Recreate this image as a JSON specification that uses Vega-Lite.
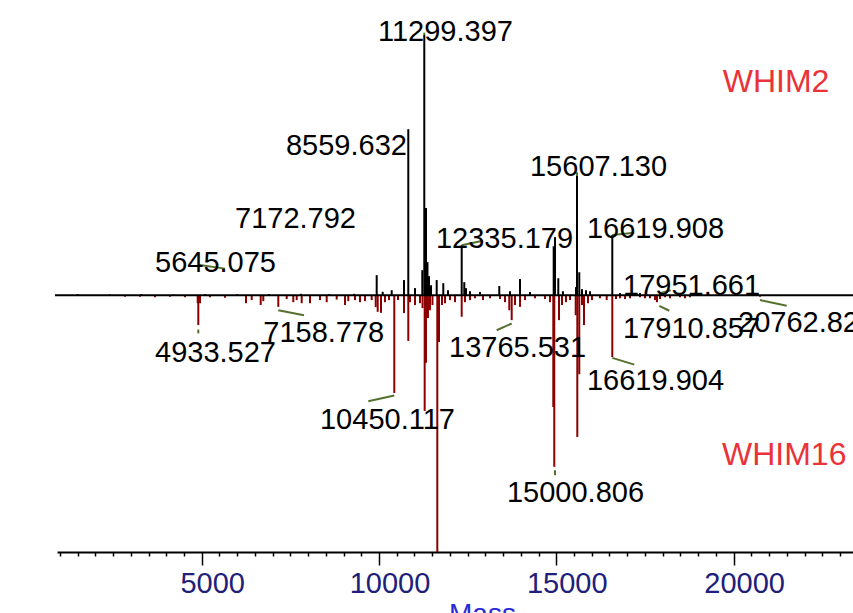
{
  "$schema": "https://vega.github.io/schema/vega-lite/v6.json",
  "autosize": "none",
  "width": 796,
  "height": 532,
  "padding": {"left": 57, "top": 20, "right": 0, "bottom": 61},
  "background": "white",
  "config": {"view": {"stroke": null}, "font": "Liberation Sans"},
  "datasets": {
    "base": [{"m": 863, "m2": 23367, "i": 0}],
    "upper": [
      {"m": 1500, "i": 0.4}, {"m": 2400, "i": 0.3}, {"m": 3300, "i": 0.4}, {"m": 4200, "i": 0.3}, {"m": 5100, "i": 0.4},
      {"m": 6000, "i": 0.3}, {"m": 6900, "i": 0.4}, {"m": 7800, "i": 0.5}, {"m": 8600, "i": 0.4}, {"m": 9300, "i": 0.5},
      {"m": 9935, "i": 7.7}, {"m": 10104, "i": 1.3}, {"m": 10358, "i": 1.9}, {"m": 10705, "i": 5.8},
      {"m": 10826, "i": 63.8}, {"m": 11015, "i": 2.7}, {"m": 11221, "i": 9.6}, {"m": 11277, "i": 100},
      {"m": 11325, "i": 33.5}, {"m": 11367, "i": 12.7}, {"m": 11410, "i": 7.3}, {"m": 11466, "i": 3.8},
      {"m": 11627, "i": 5.8}, {"m": 11813, "i": 4.6}, {"m": 11945, "i": 1.9}, {"m": 12332, "i": 19.2},
      {"m": 12405, "i": 5.0}, {"m": 12453, "i": 2.7}, {"m": 12566, "i": 1.5}, {"m": 12848, "i": 1.2},
      {"m": 13392, "i": 3.5}, {"m": 13694, "i": 1.5}, {"m": 13976, "i": 6.2}, {"m": 14258, "i": 1.2},
      {"m": 14926, "i": 18.8}, {"m": 14963, "i": 22.3}, {"m": 15056, "i": 6.5}, {"m": 15187, "i": 1.5},
      {"m": 15555, "i": 3.1}, {"m": 15583, "i": 45.8}, {"m": 15648, "i": 8.8}, {"m": 15724, "i": 2.3},
      {"m": 15837, "i": 1.9}, {"m": 15950, "i": 1.5}, {"m": 16579, "i": 23.1}, {"m": 16796, "i": 0.8},
      {"m": 17360, "i": 0.8}, {"m": 17924, "i": 1.2}, {"m": 18500, "i": 0.5}, {"m": 19300, "i": 0.4}
    ],
    "lower": [
      {"m": 2837, "i": -0.6}, {"m": 3260, "i": -0.6}, {"m": 3683, "i": -0.8}, {"m": 4106, "i": -0.6}, {"m": 4529, "i": -0.8},
      {"m": 4887, "i": -3.1}, {"m": 4904, "i": -11.5}, {"m": 4952, "i": -3.1}, {"m": 5234, "i": -0.8}, {"m": 5657, "i": -1.0},
      {"m": 6249, "i": -3.1}, {"m": 6410, "i": -1.9}, {"m": 6664, "i": -3.8}, {"m": 6737, "i": -2.3}, {"m": 7160, "i": -4.5},
      {"m": 7397, "i": -1.5}, {"m": 7583, "i": -2.7}, {"m": 7679, "i": -1.9}, {"m": 7820, "i": -3.1}, {"m": 8054, "i": -3.1},
      {"m": 8336, "i": -1.9}, {"m": 8525, "i": -2.7}, {"m": 8807, "i": -1.7}, {"m": 9041, "i": -3.8}, {"m": 9134, "i": -2.3},
      {"m": 9323, "i": -1.9}, {"m": 9464, "i": -2.7}, {"m": 9605, "i": -2.3}, {"m": 9794, "i": -1.9}, {"m": 9907, "i": -4.6},
      {"m": 9963, "i": -6.4}, {"m": 10056, "i": -6.8}, {"m": 10169, "i": -2.7}, {"m": 10282, "i": -1.9}, {"m": 10431, "i": -37.6},
      {"m": 10535, "i": -1.9}, {"m": 10705, "i": -6.9}, {"m": 10826, "i": -17.6}, {"m": 10874, "i": -2.7}, {"m": 11015, "i": -3.8},
      {"m": 11156, "i": -3.1}, {"m": 11227, "i": -5.0}, {"m": 11288, "i": -44.5}, {"m": 11325, "i": -26.0}, {"m": 11381, "i": -8.8},
      {"m": 11438, "i": -5.8}, {"m": 11508, "i": -3.8}, {"m": 11644, "i": -98.7}, {"m": 11692, "i": -18.0}, {"m": 11776, "i": -3.8},
      {"m": 11861, "i": -3.1}, {"m": 12002, "i": -1.9}, {"m": 12143, "i": -2.7}, {"m": 12332, "i": -8.3}, {"m": 12425, "i": -2.7},
      {"m": 12566, "i": -1.9}, {"m": 12707, "i": -1.2}, {"m": 12933, "i": -1.9}, {"m": 13130, "i": -1.2}, {"m": 13412, "i": -1.5},
      {"m": 13553, "i": -2.7}, {"m": 13674, "i": -5.8}, {"m": 13742, "i": -9.6}, {"m": 13835, "i": -3.8}, {"m": 13976, "i": -4.5},
      {"m": 14117, "i": -1.9}, {"m": 14399, "i": -1.2}, {"m": 14681, "i": -1.5}, {"m": 14822, "i": -2.7}, {"m": 14915, "i": -43.0},
      {"m": 14943, "i": -66.0}, {"m": 15076, "i": -9.6}, {"m": 15160, "i": -3.8}, {"m": 15273, "i": -2.7}, {"m": 15386, "i": -1.9},
      {"m": 15547, "i": -7.7}, {"m": 15592, "i": -54.5}, {"m": 15648, "i": -30.4}, {"m": 15724, "i": -3.8}, {"m": 15781, "i": -11.5},
      {"m": 15894, "i": -3.1}, {"m": 16007, "i": -1.9}, {"m": 16231, "i": -1.2}, {"m": 16421, "i": -1.9}, {"m": 16579, "i": -23.8},
      {"m": 16683, "i": -1.5}, {"m": 16796, "i": -1.2}, {"m": 16937, "i": -1.5}, {"m": 17078, "i": -1.2}, {"m": 17360, "i": -0.8},
      {"m": 17501, "i": -1.2}, {"m": 17642, "i": -1.2}, {"m": 17783, "i": -1.9}, {"m": 17839, "i": -2.7}, {"m": 17924, "i": -1.5},
      {"m": 18065, "i": -0.8}, {"m": 18206, "i": -1.2}, {"m": 18488, "i": -0.8}, {"m": 18629, "i": -1.2}, {"m": 18770, "i": -0.8},
      {"m": 20744, "i": -0.6}
    ],
    "leaders": [
      {"m": 4896, "m2": 5657, "i": 11.7, "i2": 10.2},
      {"m": 12332, "m2": 12924, "i": 19.2, "i2": 20.9},
      {"m": 16579, "m2": 17199, "i": 23.1, "i2": 24.0},
      {"m": 17904, "m2": 18226, "i": 0.65, "i2": 1.9},
      {"m": 17904, "m2": 18186, "i": -4.1, "i2": -6.0},
      {"m": 20744, "m2": 21497, "i": -1.9, "i2": -4.1},
      {"m": 4904, "m2": 4904, "i": -13.2, "i2": -14.7},
      {"m": 7160, "m2": 7885, "i": -5.8, "i2": -7.7},
      {"m": 9698, "m2": 10431, "i": -40.8, "i2": -38.6},
      {"m": 13319, "m2": 13742, "i": -13.5, "i2": -10.9},
      {"m": 14963, "m2": 14963, "i": -67.3, "i2": -69.2},
      {"m": 16579, "m2": 17199, "i": -24.1, "i2": -26.7},
      {"m": 11277, "m2": 11277, "i": 100, "i2": 100.9},
      {"m": 15583, "m2": 15583, "i": 45.8, "i2": 47.2}
    ],
    "labels": [
      {"m": 9972, "i": 97.7, "t": "11299.397"},
      {"m": 7377, "i": 53.8, "t": "8559.632"},
      {"m": 5939, "i": 25.8, "t": "7172.792"},
      {"m": 3683, "i": 9.0, "t": "5645.075"},
      {"m": 11607, "i": 18.3, "t": "12335.179"},
      {"m": 14258, "i": 45.9, "t": "15607.130"},
      {"m": 15865, "i": 21.9, "t": "16619.908"},
      {"m": 16881, "i": 0, "t": "17951.661"},
      {"m": 16881, "i": -16.5, "t": "17910.857"},
      {"m": 20124, "i": -14.2, "t": "20762.82"},
      {"m": 3683, "i": -25.8, "t": "4933.527"},
      {"m": 6737, "i": -18.0, "t": "7158.778"},
      {"m": 8336, "i": -51.3, "t": "10450.117"},
      {"m": 11974, "i": -23.7, "t": "13765.531"},
      {"m": 13609, "i": -79.6, "t": "15000.806"},
      {"m": 15865, "i": -36.5, "t": "16619.904"}
    ],
    "series": [
      {"m": 19692, "i": 78.2, "t": "WHIM2"},
      {"m": 19672, "i": -65.4, "t": "WHIM16"}
    ]
  },
  "encoding": {
    "x": {
      "field": "m", "type": "quantitative",
      "scale": {"domain": [919.4, 23367], "nice": false, "zero": false},
      "axis": {
        "orient": "bottom",
        "values": [1000,1500,2000,2500,3000,3500,4000,4500,5000,5500,6000,6500,7000,7500,8000,8500,9000,9500,10000,10500,11000,11500,12000,12500,13000,13500,14000,14500,15000,15500,16000,16500,17000,17500,18000,18500,19000,19500,20000,20500,21000,21500,22000,22500,23000],
        "format": "d",
        "labelExpr": "datum.value % 5000 === 0 ? datum.label : ''",
        "labelOverlap": false,
        "labelFlush": false,
        "labelBound": false,
        "labelFont": "Liberation Sans",
        "labelFontSize": 29,
        "labelColor": "#20207a",
        "labelOffset": 10.5,
        "labelPadding": 4,
        "tickSize": {"condition": {"test": "datum.value % 5000 === 0", "value": 13}, "value": 4},
        "tickColor": "black",
        "tickWidth": 1.5,
        "domainColor": "black",
        "domainWidth": 2,
        "grid": false,
        "title": "Mass",
        "titleFont": "Liberation Sans",
        "titleFontSize": 28,
        "titleFontWeight": "normal",
        "titleColor": "#2a2ad6",
        "titleX": 425,
        "titlePadding": 2
      }
    },
    "y": {
      "field": "i", "type": "quantitative",
      "scale": {"domain": [-98.73, 105.77], "nice": false, "zero": false},
      "axis": null
    }
  },
  "layer": [
    {
      "data": {"name": "lower"},
      "mark": {"type": "rule", "color": "#8b0000", "strokeWidth": 2},
      "encoding": {"y2": {"datum": 0}}
    },
    {
      "data": {"name": "upper"},
      "mark": {"type": "rule", "color": "black", "strokeWidth": 2},
      "encoding": {"y2": {"datum": 0}}
    },
    {
      "data": {"name": "base"},
      "mark": {"type": "rule", "color": "black", "strokeWidth": 2},
      "encoding": {"x2": {"field": "m2"}}
    },
    {
      "data": {"name": "leaders"},
      "mark": {"type": "rule", "color": "#56702e", "strokeWidth": 2},
      "encoding": {"x2": {"field": "m2"}, "y2": {"field": "i2"}}
    },
    {
      "data": {"name": "labels"},
      "mark": {"type": "text", "align": "left", "baseline": "alphabetic", "fontSize": 29, "font": "Liberation Sans", "color": "black"},
      "encoding": {"text": {"field": "t", "type": "nominal"}}
    },
    {
      "data": {"name": "series"},
      "mark": {"type": "text", "align": "left", "baseline": "alphabetic", "fontSize": 32, "font": "Liberation Sans", "color": "#ea3338"},
      "encoding": {"text": {"field": "t", "type": "nominal"}}
    }
  ]
}
